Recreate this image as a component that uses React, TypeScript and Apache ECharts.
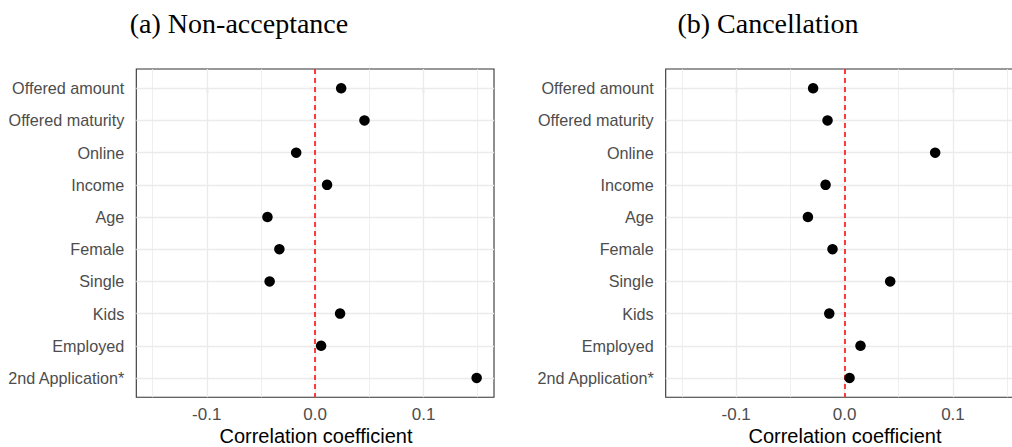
import React, { useEffect, useRef } from "react";
import * as echarts from "echarts";

const categories = [
  "Offered amount",
  "Offered maturity",
  "Online",
  "Income",
  "Age",
  "Female",
  "Single",
  "Kids",
  "Employed",
  "2nd Application*",
];
const nonAcceptance = [0.024, 0.0455, -0.0175, 0.011, -0.044, -0.033, -0.042, 0.023, 0.0055, 0.149];
const cancellation = [-0.029, -0.0157, 0.0836, -0.0175, -0.0338, -0.0111, 0.0421, -0.0141, 0.0147, 0.0046];
const xTicks = [-0.1, 0, 0.1];
const xMinor = [-0.15, -0.05, 0.05, 0.15];
const titles = ["(a) Non-acceptance", "(b) Cancellation"];
const xTitle = "Correlation coefficient";

const SANS = "'Liberation Sans', Arial, sans-serif";
const SERIF = "'Liberation Serif', 'Times New Roman', serif";

export default function App() {
  const ref = useRef<HTMLDivElement>(null);
  useEffect(() => {
    if (!ref.current) return;
    document.body.style.overflow = "hidden";
    const chart = echarts.init(ref.current, null, { renderer: "svg" });
    const grids = [
      { left: 136.3, top: 69, width: 357.7, height: 328.3 },
      { left: 665.7, top: 69, width: 357.7, height: 328.3 },
    ];
    const yIdx = categories.map((_, i) => i);
    const panels = [nonAcceptance, cancellation];

    const xAxes = grids.map((_, g) => ({
      type: "value",
      gridIndex: g,
      min: -0.165,
      max: 0.165,
      axisLine: { show: false },
      axisTick: { show: true, length: 5, customValues: xTicks, lineStyle: { color: "#333333", width: 1.1 } },
      axisLabel: {
        customValues: xTicks,
        formatter: (v: number) => v.toFixed(1),
        color: "#4d4d4d",
        fontSize: 17,
        fontFamily: SANS,
        margin: 9,
      },
      splitLine: { show: false },
    }));
    const yAxes = grids.map((_, g) => ({
      type: "value",
      gridIndex: g,
      min: -0.6,
      max: 9.6,
      inverse: true,
      axisLine: { show: false },
      axisTick: { show: true, length: 5, customValues: yIdx, lineStyle: { color: "#333333", width: 1.1 } },
      axisLabel: {
        customValues: yIdx,
        formatter: (v: number) => categories[Math.round(v)] ?? "",
        color: "#4d4d4d",
        fontSize: 16.2,
        fontFamily: SANS,
        margin: 12,
      },
      splitLine: { show: false },
    }));

    const series: any[] = [];
    grids.forEach((_, g) => {
      series.push({
        type: "line",
        xAxisIndex: g,
        yAxisIndex: g,
        data: [],
        z: 1,
        silent: true,
        markLine: {
          silent: true,
          symbol: "none",
          animation: false,
          label: { show: false },
          data: [
            ...xMinor.map((v) => ({ xAxis: v, lineStyle: { color: "#ebebeb", width: 0.8, type: "solid" } })),
            ...xTicks.map((v) => ({ xAxis: v, lineStyle: { color: "#ebebeb", width: 1.3, type: "solid" } })),
            ...yIdx.map((v) => ({ yAxis: v, lineStyle: { color: "#ebebeb", width: 1.3, type: "solid" } })),
          ],
        },
      });
      series.push({
        type: "line",
        xAxisIndex: g,
        yAxisIndex: g,
        data: [],
        z: 2,
        silent: true,
        markLine: {
          silent: true,
          symbol: "none",
          animation: false,
          label: { show: false },
          data: [{ xAxis: 0, lineStyle: { color: "#ff0000", width: 1.5, type: [5, 4] } }],
        },
      });
      series.push({
        type: "scatter",
        xAxisIndex: g,
        yAxisIndex: g,
        z: 5,
        symbol: "circle",
        symbolSize: 10.5,
        itemStyle: { color: "#000000", opacity: 1 },
        data: panels[g].map((v, i) => [v, i]),
      });
    });

    chart.setOption({
      animation: false,
      backgroundColor: "#ffffff",
      grid: grids.map((gr) => ({
        ...gr,
        show: true,
        backgroundColor: "#ffffff",
        borderColor: "#333333",
        borderWidth: 1.1,
        containLabel: false,
      })),
      xAxis: xAxes,
      yAxis: yAxes,
      series,
      graphic: [
        {
          type: "text",
          x: 239,
          y: 23,
          style: { text: titles[0], font: `28px ${SERIF}`, fill: "#000000", align: "center", verticalAlign: "middle" },
        },
        {
          type: "text",
          x: 768,
          y: 23,
          style: { text: titles[1], font: `28px ${SERIF}`, fill: "#000000", align: "center", verticalAlign: "middle" },
        },
        {
          type: "text",
          x: 316,
          y: 436,
          style: { text: xTitle, font: `20px ${SANS}`, fill: "#000000", align: "center", verticalAlign: "middle" },
        },
        {
          type: "text",
          x: 845,
          y: 436,
          style: { text: xTitle, font: `20px ${SANS}`, fill: "#000000", align: "center", verticalAlign: "middle" },
        },
      ],
    });
    return () => chart.dispose();
  }, []);

  return (
    <div
      ref={ref}
      style={{ position: "fixed", left: 0, top: 0, width: 1040, height: 447, background: "#fff" }}
    />
  );
}
